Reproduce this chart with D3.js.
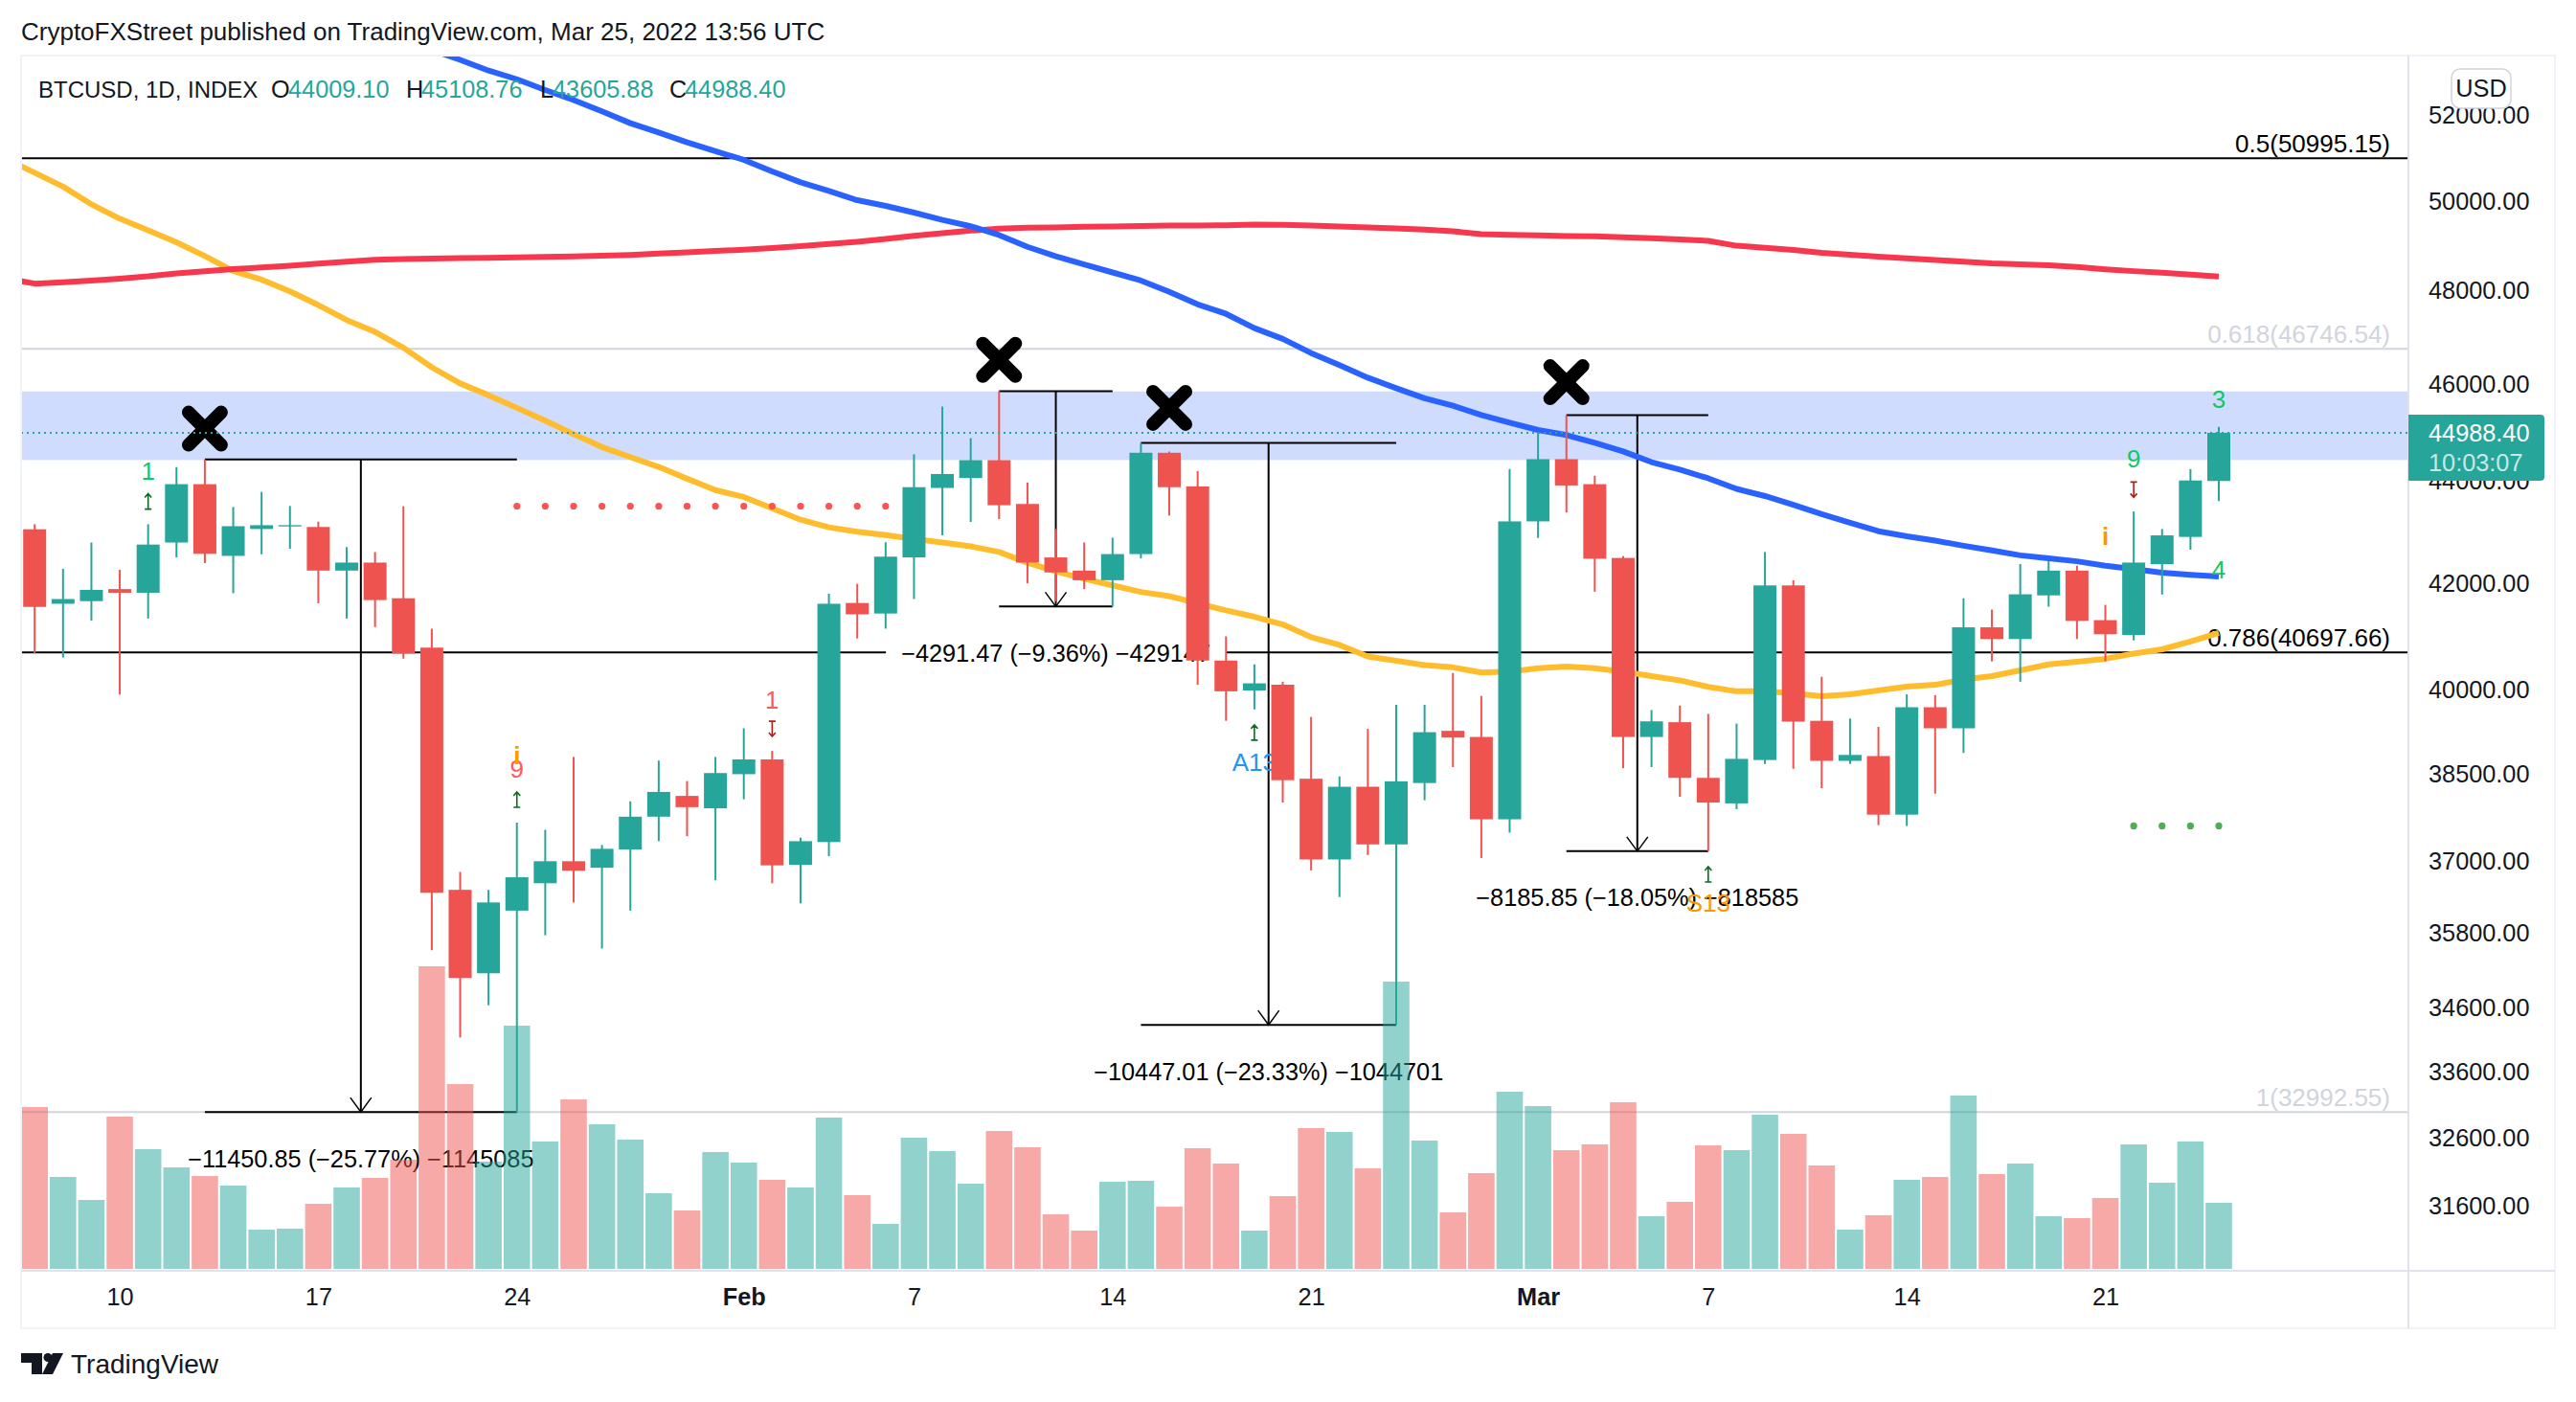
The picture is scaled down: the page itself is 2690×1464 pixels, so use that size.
<!DOCTYPE html>
<html>
<head>
<meta charset="utf-8">
<script src="https://cdn.jsdelivr.net/npm/d3@7"></script>
<style>
  html, body { margin: 0; background: #fff; }
  svg { display: block; }
  text { font-family: "Liberation Sans", Arial, sans-serif; fill: #131722; }
</style>
</head>
<body>
<svg id="chart" width="2690" height="1464"></svg>
<script>
// Daily BTCUSD, Jan 7 to Mar 25 2022
var opens = [43050,41610,41660,41890,41820,42790,43945,42530,43055,43105,43095,42245,42400,41715,40785,36515,35150,36170,36625,36995,36885,37195,37755,38115,37900,38495,38755,36935,37320,41625,41425,42500,43870,44070,44430,43550,42500,42245,42060,42565,44580,43900,40545,39995,40100,38415,37025,38275,37280,38340,39265,39155,37710,43205,44450,43945,42490,39155,39420,38430,37985,38745,41960,39445,38730,38815,37790,39690,39310,41165,40945,41770,42245,41300,41020,42370,42900,44009.10];
var highs = [43150,42280,42790,42260,43150,44290,44443.40,43490,43790,43510,43200,42700,42605,43505,41140,36815,36515,37655,37530,38800,37270,38020,38735,38375,38800,39310,38905,37395,41800,41990,42795,44550,45530,44880,45850,43975,43055,42790,42885,44779,44605,44210,40995,40475,40155,39515,38455,39300,39735,39735,40315,39895,44250,45000,45351,44115,42525,39640,39720,39570,39395,42605,42060,40245,39485,39335,39925,39910,41715,41500,42370,42430,42340,41590,43400,43055,44250,45108.76];
var lows = [40680,40600,41290,39920,41330,42500,42390,41810,42560,42670,41620,41330,41170,40580,35520,34135,34640,32992.55,35765,36305,35550,36170,37335,37420,36675,38055,36625,36290,37080,40955,41140,41700,42930,43195,43250,42000,41660,41890,41558,42480,43320,40100,39445,39650,38000,36840,36395,37100,34332,38040,38620,37050,37480,42880,43380,41840,38600,38620,38100,37165,37885,38675,38590,38250,38675,37610,37595,38155,38870,40530,40155,41555,40945,40530,40920,41785,42650,43605.88];
var closes = [41550,41700,41875,41820,42750,43945,42570,43110,43130,43130,42245,42400,41680,40675,36465,35075,36305,36725,36995,36835,37205,37755,38185,37920,38515,38755,36925,37335,41610,41410,42515,43885,44150,44430,43525,42400,42210,42060,42565,44580,43885,40545,39980,40125,38390,37025,38275,37280,38370,39240,39145,37710,43205,44450,43920,42475,39155,39435,38430,38000,38765,41960,39430,38730,38835,37790,39690,39310,41165,40945,41790,42245,41285,41035,42400,42930,44020,44988.40];
// relative volume, no scale is shown in the picture
var volumes = [16.9,9.6,7.2,15.9,12.5,10.6,9.7,8.7,4.1,4.2,6.8,8.5,9.5,11.4,31.6,19.3,11.2,25.4,13.3,17.7,15.1,13.5,7.9,6.1,12.2,11.1,9.3,8.5,15.8,7.7,4.7,13.7,12.3,8.9,14.4,12.7,5.7,4.0,9.1,9.2,6.5,12.6,11.0,4.0,7.6,14.7,14.3,10.5,30.0,13.4,5.9,10.0,18.5,17.0,12.4,13.0,17.4,5.5,7.0,12.9,12.4,16.1,14.1,10.8,4.1,5.6,9.3,9.6,18.1,9.9,11.0,5.5,5.3,7.4,13.0,9.0,13.3,6.9];

// moving averages, one value per candle. ma50 and ma200 start one candle before the
// first one, ma100 comes in from above the pane
var ma50Start = -1;
var ma50 = [50979,50660,50340,49936,49610,49345,49077,48770,48438,48248,47990,47690,47366,47110,46770,46355,46014,45768,45504,45240,44960,44696,44493,44293,44055,43827,43690,43464,43238,43088,43003,42935,42860,42790,42715,42606,42397,42230,42087,41962,41835,41755,41620,41484,41364,41219,40980,40836,40620,40541,40460,40420,40323,40340,40404,40436,40404,40340,40258,40180,40060,39980,39980,39942,39889,39926,39995,40066,40098,40195,40258,40363,40474,40522,40578,40675,40754,40900,41060];
var ma100Start = 13;
var ma100 = [53810,53580,53340,53080,52870,52610,52370,52100,51820,51600,51370,51160,50960,50690,50440,50240,50030,49900,49746,49581,49438,49240,48976,48763,48583,48406,48228,47980,47705,47500,47190,46960,46657,46400,46134,45915,45705,45548,45355,45195,45046,44942,44785,44608,44390,44240,44063,43851,43708,43532,43348,43180,43011,42912,42827,42727,42635,42541,42484,42425,42340,42273,42205,42164,42130];
var ma200Start = -1;
var ma200 = [48270,48160,48187,48225,48270,48320,48385,48430,48478,48515,48553,48600,48647,48685,48703,48712,48722,48730,48740,48750,48760,48777,48796,48825,48853,48882,48910,48947,48993,49040,49088,49150,49224,49282,49340,49382,49403,49410,49425,49432,49446,49453,49453,49460,49474,49468,49453,49432,49410,49390,49360,49325,49260,49246,49233,49218,49210,49190,49170,49140,49110,49000,48956,48907,48840,48797,48755,48717,48682,48646,48608,48585,48565,48530,48477,48435,48400,48357,48315];

var lastPrice = 44988.40;
var priceTicks = [52000,50000,48000,46000,44000,42000,40000,38500,37000,35800,34600,33600,32600,31600];
var timeTickIndex = [3,10,17,25,31,38,45,53,59,66,73];
var timeTickLabels = ["10","17","24","Feb","7","14","21","Mar","7","14","21"];
var boldTicks = ["Feb","Mar"];

// fib levels
var fibLevels = [50995.15,46746.54,40697.66,32992.55];
var fibLabels = ["0.5(50995.15)","0.618(46746.54)","0.786(40697.66)","1(32992.55)"];
var fibDark = [true,false,true,false];

// highlighted zone
var zoneTop = 45847;
var zoneBottom = 44432;

// price range tools
var rangeFrom = [6,34,39,54];
var rangeTo = [17,38,48,59];
var rangeTop = [44443.40,45849.47,44779.01,45350.85];
var rangeBottom = [32992.55,41558,34332,37165];
var rangeText = ["\u221211450.85 (\u221225.77%) \u22121145085","\u22124291.47 (\u22129.36%) \u2212429147","\u221210447.01 (\u221223.33%) \u22121044701","\u22128185.85 (\u221218.05%) \u2212818585"];
var rangeTextPrice = [32296,40690,33612,36390];

// X marks
var crossIndex = [6,34,40,54];
var crossPrice = [45074,46511,45504,46040];

// dots
var redDotIndex = [17,18,19,20,21,22,23,24,25,26,27,28,29,30];
var redDotPrice = 43507;
var greenDotIndex = [74,75,76,77];
var greenDotPrice = 37596;

// sequential counter labels
var markIndex = [4,17,17,74,26,77,77,73,43,59];
var markPrice = [44212,38585,38818,44458,39815,45687,42256,42907,38710,36302];
var markText = ["1","9","i","9","1","3","4","i","A13","S13"];
var markColor = ["#12c766","#ff5a5a","#ff9800","#12c766","#ff5a5a","#12c766","#12c766","#ff9800","#2196f3","#ff9800"];
var upArrowIndex = [4,17,43,59];
var upArrowPrice = [43601,38050,39235,36775];
var downArrowIndex = [26,74];
var downArrowPrice = [39300,43834];

var UP = "#26a69a", DOWN = "#ef5350";
var left = 22, right = 2515, outerRight = 2668, top_ = 58, paneBottom = 1326, outerBottom = 1387;
var fontSize = 25.3;

var svg = d3.select("#chart");

var x = d3.scaleLinear().domain([0, 77]).range([36.2, 2317]);
var y = d3.scaleLog().domain([52000, 31600]).range([120.7, 1259.8]);
var vol = d3.scaleLinear().domain([0, 31.6]).range([1325, 1009]);

svg.append("clipPath").attr("id", "pane").append("rect")
  .attr("x", left).attr("y", top_).attr("width", right - left).attr("height", paneBottom - top_);

var pane = svg.append("g").attr("clip-path", "url(#pane)");

// zone and fib lines sit at the bottom
pane.append("rect")
  .attr("x", left).attr("width", right - left)
  .attr("y", y(zoneTop)).attr("height", y(zoneBottom) - y(zoneTop))
  .attr("fill", "#cfdcfd");

fibLevels.forEach(function(level, i) {
  var color = fibDark[i] ? "#000" : "#d1d4dc";
  pane.append("line")
    .attr("x1", left).attr("x2", right)
    .attr("y1", y(level)).attr("y2", y(level))
    .attr("stroke", color).attr("stroke-width", 2);
  pane.append("text")
    .attr("x", 2496).attr("y", y(level) - 6)
    .attr("text-anchor", "end")
    .attr("font-size", 26)
    .style("fill", color)
    .text(fibLabels[i]);
});

// price range tools
rangeFrom.forEach(function(from, i) {
  var g = pane.append("g").attr("stroke", "#000").attr("stroke-width", 2).attr("fill", "none");
  var x1 = x(from), x2 = x(rangeTo[i]), cx = (x1 + x2) / 2;
  var yTop = y(rangeTop[i]), yBottom = y(rangeBottom[i]);
  g.append("path").attr("d", "M" + x1 + "," + yTop + "H" + x2);
  g.append("path").attr("d", "M" + x1 + "," + yBottom + "H" + x2);
  g.append("path").attr("d", "M" + cx + "," + yTop + "V" + yBottom);
  g.append("path").attr("stroke-width", 1.5)
    .attr("d", "M" + (cx - 11) + "," + (yBottom - 15) + "L" + cx + "," + yBottom + "L" + (cx + 11) + "," + (yBottom - 15));

  // white box under the text, it covers the fib line
  var box = pane.append("rect").attr("fill", "#fff");
  var label = pane.append("text")
    .attr("x", cx).attr("y", y(rangeTextPrice[i]))
    .attr("text-anchor", "middle").attr("dominant-baseline", "central")
    .attr("font-size", fontSize)
    .style("fill", "#000")
    .text(rangeText[i]);
  var b = label.node().getBBox();
  box.attr("x", b.x - 16).attr("y", b.y).attr("width", b.width + 32).attr("height", b.height);
});

// X marks
crossIndex.forEach(function(d, i) {
  var s = 17;
  pane.append("path")
    .attr("transform", "translate(" + x(d) + "," + y(crossPrice[i]) + ")")
    .attr("d", "M" + -s + "," + -s + "L" + s + "," + s + "M" + s + "," + -s + "L" + -s + "," + s)
    .attr("stroke", "#000").attr("stroke-width", 14).attr("stroke-linecap", "round");
});

// volume
pane.selectAll(".vol").data(volumes).enter().append("rect")
  .attr("class", "vol")
  .attr("x", function(d, i) { return x(i) - 13.8; })
  .attr("width", 27.6)
  .attr("y", function(d) { return vol(d); })
  .attr("height", function(d) { return vol(0) - vol(d); })
  .attr("fill", function(d, i) { return closes[i] >= opens[i] ? UP : DOWN; })
  .attr("fill-opacity", 0.5);

// moving averages
function drawMa(values, start, color) {
  var line = d3.line()
    .x(function(d, i) { return x(i + start); })
    .y(function(d) { return y(d); });
  pane.append("path").datum(values)
    .attr("d", line)
    .attr("fill", "none")
    .attr("stroke", color)
    .attr("stroke-width", 6)
    .attr("stroke-linejoin", "round");
}
drawMa(ma50, ma50Start, "#ffbc2c");
drawMa(ma200, ma200Start, "#f7374e");
drawMa(ma100, ma100Start, "#2962ff");

// counters and dots, under the candles
markIndex.forEach(function(d, i) {
  pane.append("text")
    .attr("x", x(d)).attr("y", y(markPrice[i]))
    .attr("text-anchor", "middle").attr("dominant-baseline", "central")
    .attr("font-size", 26)
    .attr("font-weight", markText[i] === "i" ? 700 : 400)
    .style("fill", markColor[i])
    .text(markText[i]);
});

function drawArrow(index, price, color, dir) {
  pane.append("path")
    .attr("transform", "translate(" + x(index) + "," + y(price) + ") scale(1," + dir + ")")
    .attr("d", "M0,-8V8M-3.5,8H3.5M-3.5,-4L0,-8L3.5,-4")
    .attr("fill", "none").attr("stroke", color).attr("stroke-width", 1.6);
}
upArrowIndex.forEach(function(d, i) { drawArrow(d, upArrowPrice[i], "#0b6b1d", 1); });
downArrowIndex.forEach(function(d, i) { drawArrow(d, downArrowPrice[i], "#b71c1c", -1); });

pane.selectAll(".reddot").data(redDotIndex).enter().append("circle")
  .attr("cx", function(d) { return x(d); }).attr("cy", y(redDotPrice)).attr("r", 3.6)
  .attr("fill", "#ff5252");
pane.selectAll(".greendot").data(greenDotIndex).enter().append("circle")
  .attr("cx", function(d) { return x(d); }).attr("cy", y(greenDotPrice)).attr("r", 3.6)
  .attr("fill", "#4caf50");

// candles
var candles = pane.selectAll(".candle").data(opens).enter().append("g").attr("class", "candle");
candles.append("line")
  .attr("x1", function(d, i) { return x(i); })
  .attr("x2", function(d, i) { return x(i); })
  .attr("y1", function(d, i) { return y(highs[i]); })
  .attr("y2", function(d, i) { return y(lows[i]); })
  .attr("stroke", function(d, i) { return closes[i] >= opens[i] ? UP : DOWN; })
  .attr("stroke-width", 2);
candles.append("rect")
  .attr("x", function(d, i) { return x(i) - 12; })
  .attr("width", 24)
  .attr("y", function(d, i) { return y(Math.max(opens[i], closes[i])); })
  .attr("height", function(d, i) { return Math.abs(y(opens[i]) - y(closes[i])); })
  .attr("fill", function(d, i) { return closes[i] >= opens[i] ? UP : DOWN; });

// last price line
pane.append("line")
  .attr("x1", left).attr("x2", right)
  .attr("y1", y(lastPrice)).attr("y2", y(lastPrice))
  .attr("stroke", UP).attr("stroke-width", 2).attr("stroke-dasharray", "2 4");

// frame
var frame = "#f0f3fa", axisLine = "#e0e3eb";
svg.append("rect")
  .attr("x", left).attr("y", top_).attr("width", outerRight - left).attr("height", outerBottom - top_)
  .attr("fill", "none").attr("stroke", frame).attr("stroke-width", 2);
svg.append("line").attr("x1", right).attr("x2", right).attr("y1", top_).attr("y2", outerBottom)
  .attr("stroke", axisLine).attr("stroke-width", 2);
svg.append("line").attr("x1", left).attr("x2", outerRight).attr("y1", paneBottom + 1).attr("y2", paneBottom + 1)
  .attr("stroke", axisLine).attr("stroke-width", 2);

// axes
var priceAxis = d3.axisRight(y).tickValues(priceTicks).tickSize(0).tickPadding(0).tickFormat(d3.format(".2f"));
var priceG = svg.append("g").attr("transform", "translate(2536,0)").call(priceAxis);
priceG.select(".domain").remove();
priceG.selectAll("text").attr("font-size", fontSize).attr("font-family", null);

var timeAxis = d3.axisBottom(x).tickValues(timeTickIndex).tickSize(0).tickPadding(0)
  .tickFormat(function(d) { return timeTickLabels[timeTickIndex.indexOf(d)]; });
var timeG = svg.append("g").attr("transform", "translate(0,1345)").call(timeAxis);
timeG.select(".domain").remove();
timeG.selectAll("text")
  .attr("font-size", fontSize).attr("font-family", null)
  .attr("font-weight", function(d) { return boldTicks.indexOf(timeTickLabels[timeTickIndex.indexOf(d)]) >= 0 ? 700 : 400; });

// last price tag
svg.append("path")
  .attr("d", "M" + right + ",433H2653a4,4 0 0 1 4,4V498a4,4 0 0 1 -4,4H" + right + "Z")
  .attr("fill", UP);
svg.append("text").attr("x", 2536).attr("y", y(lastPrice))
  .attr("dominant-baseline", "central").attr("font-size", fontSize)
  .style("fill", "#fff").text(d3.format(".2f")(lastPrice));
svg.append("text").attr("x", 2536).attr("y", 483)
  .attr("dominant-baseline", "central").attr("font-size", fontSize)
  .style("fill", "#fff").style("fill-opacity", 0.75).text("10:03:07");

// currency button
svg.append("rect").attr("x", 2560).attr("y", 72).attr("width", 62).attr("height", 41).attr("rx", 9)
  .attr("fill", "#fff").attr("stroke", "#d1d4dc").attr("stroke-width", 1.5);
svg.append("text").attr("x", 2591).attr("y", 92).attr("text-anchor", "middle")
  .attr("dominant-baseline", "central").attr("font-size", fontSize).text("USD");

// header and legend
svg.append("text").attr("x", 22).attr("y", 33).attr("dominant-baseline", "central")
  .attr("font-size", 26)
  .text("CryptoFXStreet published on TradingView.com, Mar 25, 2022 13:56 UTC");

var legendLabels = ["BTCUSD, 1D, INDEX", "O", "H", "L", "C"];
var legendValues = ["", "44009.10", "45108.76", "43605.88", "44988.40"];
var legendLabelX = [40, 283, 424, 564, 699];
var legendValueX = [0, 301, 440, 577, 715];
legendLabels.forEach(function(d, i) {
  svg.append("text").attr("x", legendLabelX[i]).attr("y", 93).attr("dominant-baseline", "central")
    .attr("font-size", i === 0 ? 24 : fontSize).text(d);
  if (legendValues[i]) {
    svg.append("text").attr("x", legendValueX[i]).attr("y", 93).attr("dominant-baseline", "central")
      .attr("font-size", fontSize).style("fill", UP).text(legendValues[i]);
  }
});

// logo
var logo = svg.append("g").attr("fill", "#131722");
logo.append("path").attr("d", "M22,1413H44V1435H33V1423H22Z");
logo.append("circle").attr("cx", 50).attr("cy", 1417.5).attr("r", 4.5);
logo.append("path").attr("d", "M55,1413H66L55,1435H44Z");
svg.append("text").attr("x", 74).attr("y", 1424).attr("dominant-baseline", "central")
  .attr("font-size", 28).text("TradingView");
</script>
</body>
</html>
